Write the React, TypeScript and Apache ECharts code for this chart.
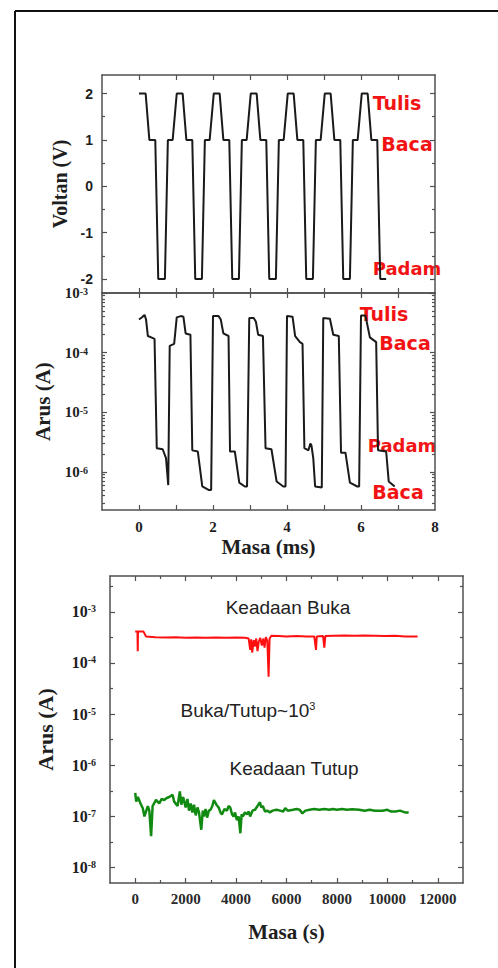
import React, { useEffect, useRef } from 'react';
import * as echarts from 'echarts';

// ---------- Data ----------
// Panel 1: voltage (V) vs time (ms)
const voltTime = [0, 0.18, 0.28, 0.44, 0.52, 0.7, 0.78, 0.91, 1.02, 1.18, 1.28, 1.44, 1.52, 1.7, 1.78, 1.91, 2.02, 2.18, 2.28, 2.44, 2.52, 2.7, 2.78, 2.91, 3.02, 3.18, 3.28, 3.44, 3.52, 3.7, 3.78, 3.91, 4.02, 4.18, 4.28, 4.44, 4.52, 4.7, 4.78, 4.91, 5.02, 5.18, 5.28, 5.44, 5.52, 5.7, 5.78, 5.91, 6.02, 6.18, 6.28, 6.44, 6.52, 6.68];
const voltValue = [2, 2, 1, 1, -2, -2, 1, 1, 2, 2, 1, 1, -2, -2, 1, 1, 2, 2, 1, 1, -2, -2, 1, 1, 2, 2, 1, 1, -2, -2, 1, 1, 2, 2, 1, 1, -2, -2, 1, 1, 2, 2, 1, 1, -2, -2, 1, 1, 2, 2, 1, 1, -2, -2];

// Panel 2: current (A) vs time (ms)
const currTime = [0, 0.1, 0.15, 0.19, 0.24, 0.33, 0.42, 0.48, 0.64, 0.73, 0.79, 0.83, 0.95, 1.02, 1.13, 1.2, 1.26, 1.39, 1.44, 1.59, 1.71, 1.88, 1.95, 2.0, 2.15, 2.21, 2.28, 2.42, 2.46, 2.59, 2.71, 2.86, 2.92, 2.98, 3.1, 3.16, 3.22, 3.35, 3.42, 3.58, 3.72, 3.9, 3.96, 4.0, 4.15, 4.22, 4.35, 4.42, 4.47, 4.58, 4.63, 4.66, 4.71, 4.76, 4.94, 4.98, 5.16, 5.25, 5.4, 5.46, 5.58, 5.7, 5.9, 5.95, 6.0, 6.12, 6.24, 6.41, 6.46, 6.68, 6.75, 6.91];
const currValue = [3.6e-4, 4.0e-4, 4.3e-4, 3.6e-4, 1.9e-4, 1.8e-4, 1.7e-4, 2.5e-6, 2.4e-6, 1.7e-6, 6.0e-7, 1.3e-4, 1.4e-4, 3.9e-4, 4.1e-4, 4.0e-4, 2.1e-4, 2.0e-4, 2.3e-6, 2.2e-6, 5.7e-7, 5.0e-7, 5.0e-7, 4.1e-4, 4.1e-4, 3.6e-4, 2.1e-4, 1.9e-4, 2.2e-6, 2.2e-6, 6.6e-7, 5.7e-7, 5.7e-7, 3.8e-4, 3.8e-4, 3.3e-4, 2.0e-4, 1.9e-4, 2.5e-6, 2.4e-6, 6.9e-7, 5.7e-7, 5.7e-7, 4.1e-4, 4.0e-4, 1.9e-4, 1.5e-4, 1.4e-4, 2.5e-6, 2.3e-6, 3.0e-6, 2.8e-6, 1.7e-6, 5.7e-7, 5.5e-7, 3.8e-4, 3.7e-4, 2.0e-4, 1.9e-4, 2.1e-6, 2.1e-6, 6.6e-7, 5.7e-7, 5.7e-7, 4.2e-4, 4.2e-4, 1.8e-4, 1.5e-4, 2.3e-6, 2.2e-6, 6.9e-7, 5.7e-7];

// Bottom: retention, ON state (red) and OFF state (green), [time s, current A]
const onState: [number, number][] = [[0, 4.1e-4], [90, 4.1e-4], [100, 1.7e-4], [110, 4.1e-4], [330, 4.1e-4], [430, 3.3e-4], [800, 3.2e-4], [1200, 3.15e-4], [1600, 3.2e-4], [2000, 3.1e-4], [2400, 3.15e-4], [2800, 3.1e-4], [3200, 3.15e-4], [3600, 3.1e-4], [4000, 3.15e-4], [4350, 3.1e-4], [4500, 3.0e-4], [4560, 1.8e-4], [4600, 2.9e-4], [4640, 1.6e-4], [4700, 2.8e-4], [4740, 2.1e-4], [4800, 3.0e-4], [4850, 1.7e-4], [4900, 2.6e-4], [4960, 3.1e-4], [5020, 2.2e-4], [5080, 3.0e-4], [5130, 2.0e-4], [5180, 3.2e-4], [5240, 2.7e-4], [5290, 5.4e-5], [5330, 3.0e-4], [5400, 3.4e-4], [5700, 3.35e-4], [6000, 3.3e-4], [6400, 3.35e-4], [6800, 3.3e-4], [7100, 3.3e-4], [7170, 1.8e-4], [7200, 3.3e-4], [7450, 3.35e-4], [7500, 2.0e-4], [7540, 3.35e-4], [7900, 3.4e-4], [8300, 3.45e-4], [8700, 3.4e-4], [9100, 3.45e-4], [9500, 3.4e-4], [9900, 3.35e-4], [10300, 3.4e-4], [10700, 3.3e-4], [11200, 3.3e-4]];
const offState: [number, number][] = [[0, 2.9e-7], [40, 1.95e-7], [105, 2.4e-7], [210, 1.8e-7], [300, 1.45e-7], [366, 1.0e-7], [500, 1.6e-7], [560, 1.3e-7], [630, 4.1e-8], [690, 1.6e-7], [825, 2.1e-7], [955, 1.8e-7], [1050, 2.2e-7], [1150, 2.1e-7], [1250, 2.3e-7], [1350, 2.4e-7], [1480, 2.65e-7], [1545, 1.95e-7], [1680, 1.6e-7], [1770, 3.1e-7], [1830, 1.7e-7], [1900, 2.4e-7], [2000, 1.5e-7], [2070, 2.2e-7], [2135, 1.3e-7], [2200, 1.8e-7], [2270, 1.2e-7], [2330, 1.7e-7], [2400, 1.05e-7], [2470, 1.5e-7], [2530, 1.2e-7], [2620, 5.5e-8], [2680, 1.3e-7], [2720, 1.0e-7], [2790, 1.4e-7], [2850, 9.5e-8], [2920, 1.3e-7], [2985, 1.35e-7], [3060, 1.6e-7], [3120, 2.1e-7], [3220, 1.7e-7], [3310, 1.5e-7], [3380, 1.2e-7], [3440, 1.1e-7], [3540, 1.4e-7], [3640, 1.3e-7], [3700, 1.6e-7], [3770, 1.5e-7], [3840, 1.1e-7], [3900, 1.0e-7], [3960, 1.2e-7], [4030, 8.5e-8], [4100, 1.0e-7], [4170, 4.7e-8], [4220, 1.1e-7], [4270, 1.0e-7], [4350, 1.2e-7], [4430, 1.1e-7], [4500, 1.25e-7], [4560, 1.0e-7], [4650, 1.3e-7], [4750, 1.35e-7], [4850, 1.6e-7], [4950, 1.9e-7], [5000, 1.5e-7], [5060, 1.6e-7], [5150, 1.25e-7], [5250, 1.3e-7], [5340, 1.2e-7], [5450, 1.3e-7], [5600, 1.35e-7], [5750, 1.3e-7], [5870, 1.25e-7], [5950, 1.45e-7], [6050, 1.3e-7], [6260, 1.35e-7], [6400, 1.4e-7], [6520, 1.35e-7], [6630, 1.15e-7], [6750, 1.3e-7], [6915, 1.35e-7], [7100, 1.4e-7], [7300, 1.35e-7], [7500, 1.4e-7], [7700, 1.35e-7], [7830, 1.4e-7], [8000, 1.35e-7], [8200, 1.4e-7], [8400, 1.35e-7], [8600, 1.38e-7], [8880, 1.35e-7], [9100, 1.3e-7], [9300, 1.35e-7], [9500, 1.3e-7], [9800, 1.3e-7], [10000, 1.35e-7], [10150, 1.25e-7], [10320, 1.25e-7], [10500, 1.3e-7], [10700, 1.2e-7], [10845, 1.2e-7]];

// Ticks / labels
const msTicks = [0, 1, 2, 3, 4, 5, 6, 7];
const msLabels = [0, 2, 4, 6, 8];
const voltTicks = [-2, -1, 0, 1, 2];
const voltMinorTicks = [-1.5, -0.5, 0.5, 1.5];
const currMajorTicks = [1e-6, 1e-5, 1e-4, 1e-3];
const currMinorTicks = [3e-7, 4e-7, 5e-7, 6e-7, 7e-7, 8e-7, 9e-7, 2e-6, 3e-6, 4e-6, 5e-6, 6e-6, 7e-6, 8e-6, 9e-6, 2e-5, 3e-5, 4e-5, 5e-5, 6e-5, 7e-5, 8e-5, 9e-5, 2e-4, 3e-4, 4e-4, 5e-4, 6e-4, 7e-4, 8e-4, 9e-4];
const secMajorTicks = [0, 2000, 4000, 6000, 8000, 10000, 12000];
const secMinorTicks = [1000, 3000, 5000, 7000, 9000, 11000];
const retMajorTicks = [1e-8, 1e-7, 1e-6, 1e-5, 1e-4, 1e-3];
const retMinorTicks = [3.162e-9, 3.162e-8, 3.162e-7, 3.162e-6, 3.162e-5, 3.162e-4, 3.162e-3];

const FRAME = '#505050';
const TXT = '#1e1e1e';
const SERIF = '"Liberation Serif", "Times New Roman", serif';
const SANS = '"Liberation Sans", Arial, sans-serif';

function tickCfg(vals: number[], len: number) {
  if (!vals.length) return { show: false };
  return { show: true, inside: true, length: len, customValues: vals, lineStyle: { color: FRAME, width: 1.2 } };
}

function buildAxes(dir: 'x' | 'y', gridIndex: number, type: string, min: number, max: number, major: number[], minor: number[], label: any, extra: any) {
  const common: any = { type, gridIndex, min, max, splitLine: { show: false }, silent: true };
  if (type === 'log') common.logBase = 10;
  const p1 = dir === 'x' ? 'bottom' : 'left';
  const p2 = dir === 'x' ? 'top' : 'right';
  return [
    { ...common, position: p1, axisLine: { show: true, onZero: false, lineStyle: { color: FRAME, width: 1.5 } }, axisTick: tickCfg(major, 5), axisLabel: label || { show: false }, ...(extra || {}) },
    { ...common, position: p1, axisLine: { show: false, onZero: false }, axisTick: tickCfg(minor, 3), axisLabel: { show: false } },
    { ...common, position: p2, axisLine: { show: true, onZero: false, lineStyle: { color: FRAME, width: 1.5 } }, axisTick: tickCfg(major, 5), axisLabel: { show: false } },
    { ...common, position: p2, axisLine: { show: false, onZero: false }, axisTick: tickCfg(minor, 3), axisLabel: { show: false } },
  ];
}

const powFormatter = (v: number) => `10{s|${Math.round(Math.log10(v))}}`;
const plainFormatter = (v: number) => String(Math.round(v));

function redText(text: string, x: number, y: number, size: number) {
  return {
    type: 'text', x, y, silent: true,
    style: { text, align: 'center', verticalAlign: 'middle', textAlign: 'center', textVerticalAlign: 'middle', fill: '#f21414', font: `bold ${size}px "DejaVu Sans", sans-serif` },
  };
}

function blackText(text: string, x: number, y: number, rich?: any) {
  return {
    type: 'text', x, y, silent: true,
    style: { text, align: 'center', verticalAlign: 'middle', textAlign: 'center', textVerticalAlign: 'middle', fill: '#222', fontSize: 19, fontFamily: SANS, rich },
  };
}

export default function App() {
  const ref = useRef<HTMLDivElement>(null);
  useEffect(() => {
    if (!ref.current) return;
    const chart = echarts.init(ref.current, null, { renderer: 'svg' });

    const xAxes = [
      ...buildAxes('x', 0, 'value', -1, 8, msTicks, [], null, null),
      ...buildAxes('x', 1, 'value', -1, 8, msTicks, [], {
        show: true, customValues: msLabels, margin: 9, fontFamily: SERIF, fontWeight: 'bold', fontSize: 15, color: TXT,
        formatter: plainFormatter,
      }, {
        name: 'Masa (ms)', nameLocation: 'middle', nameGap: 26,
        nameTextStyle: { fontFamily: SERIF, fontWeight: 'bold', fontSize: 21, color: TXT },
      }),
      ...buildAxes('x', 2, 'value', -1000, 13000, secMajorTicks, secMinorTicks, {
        show: true, customValues: secMajorTicks, margin: 8, fontFamily: SERIF, fontWeight: 'bold', fontSize: 15, color: '#2a2a2a',
        formatter: plainFormatter,
      }, {
        name: 'Masa (s)', nameLocation: 'middle', nameGap: 38,
        nameTextStyle: { fontFamily: SERIF, fontWeight: 'bold', fontSize: 21, color: TXT },
      }),
    ];

    const richSup = { s: { fontSize: 10, fontFamily: SERIF, fontWeight: 'bold', color: TXT, verticalAlign: 'top', lineHeight: 12 } };

    const yAxes = [
      ...buildAxes('y', 0, 'value', -2.3, 2.4, voltTicks, voltMinorTicks, {
        show: true, customValues: voltTicks, margin: 9, fontFamily: SANS, fontWeight: 'bold', fontSize: 14, color: TXT,
        lineHeight: 11,
      }, {
        name: 'Voltan (V)', nameLocation: 'middle', nameGap: 29, nameRotate: 90,
        nameTextStyle: { fontFamily: SERIF, fontWeight: 'bold', fontSize: 20, color: TXT },
      }),
      ...buildAxes('y', 1, 'log', 2.3e-7, 1e-3, currMajorTicks, currMinorTicks, {
        show: true, customValues: currMajorTicks, margin: 14, fontFamily: SERIF, fontWeight: 'bold', fontSize: 15, color: TXT,
        lineHeight: 13, formatter: powFormatter, rich: richSup,
      }, {
        name: 'Arus (A)', nameLocation: 'middle', nameGap: 41, nameRotate: 90,
        nameTextStyle: { fontFamily: SERIF, fontWeight: 'bold', fontSize: 21, color: TXT },
      }),
      ...buildAxes('y', 2, 'log', 5.01e-9, 5.01e-3, retMajorTicks, retMinorTicks, {
        show: true, customValues: retMajorTicks, margin: 14, fontFamily: SERIF, fontWeight: 'bold', fontSize: 16, color: TXT,
        lineHeight: 16, formatter: powFormatter, rich: richSup,
      }, {
        name: 'Arus (A)', nameLocation: 'middle', nameGap: 54, nameRotate: 90,
        nameTextStyle: { fontFamily: SERIF, fontWeight: 'bold', fontSize: 22, color: TXT },
      }),
    ];

    const option: any = {
      animation: false,
      backgroundColor: '#ffffff',
      grid: [
        { left: 102, top: 75, width: 333, height: 218, containLabel: false, outerBoundsMode: 'none' },
        { left: 102, top: 293, width: 333, height: 217, containLabel: false, outerBoundsMode: 'none' },
        { left: 110, top: 576, width: 353, height: 307, containLabel: false, outerBoundsMode: 'none' },
      ],
      xAxis: xAxes,
      yAxis: yAxes,
      series: [
        {
          type: 'line', xAxisIndex: 0, yAxisIndex: 0, symbol: 'none', silent: true,
          data: voltTime.map((t, i) => [t, voltValue[i]]),
          lineStyle: { color: '#1a1a1a', width: 2 },
        },
        {
          type: 'line', xAxisIndex: 4, yAxisIndex: 4, symbol: 'none', silent: true,
          data: currTime.map((t, i) => [t, currValue[i]]),
          lineStyle: { color: '#1a1a1a', width: 2 },
        },
        {
          type: 'line', xAxisIndex: 8, yAxisIndex: 8, symbol: 'none', silent: true,
          data: onState,
          lineStyle: { color: '#ff1010', width: 2 },
        },
        {
          type: 'line', xAxisIndex: 8, yAxisIndex: 8, symbol: 'none', silent: true,
          data: offState,
          lineStyle: { color: '#118a11', width: 2.5 },
        },
      ],
      graphic: [
        { type: 'line', silent: true, shape: { x1: 15, y1: 11, x2: 498, y2: 11 }, style: { stroke: '#111', lineWidth: 2 } },
        { type: 'line', silent: true, shape: { x1: 15, y1: 11, x2: 15, y2: 968 }, style: { stroke: '#111', lineWidth: 2 } },
        redText('Tulis', 397, 103, 19),
        redText('Baca', 407, 144, 19),
        redText('Padam', 407, 268, 18),
        redText('Tulis', 384, 314, 19),
        redText('Baca', 405, 343, 19),
        redText('Padam', 402, 445, 18),
        redText('Baca', 398, 492, 19),
        blackText('Keadaan Buka', 288, 607),
        blackText('Buka/Tutup~10{s|3}', 248, 710, { s: { fontSize: 11, fontFamily: SANS, fill: '#222', verticalAlign: 'top', lineHeight: 20 } }),
        blackText('Keadaan Tutup', 294, 768),
      ],
    };

    chart.setOption(option);
    return () => chart.dispose();
  }, []);

  return (
    <div
      ref={ref}
      style={{ position: 'fixed', left: 0, top: 0, width: 498, height: 968, background: '#fff' }}
    />
  );
}
